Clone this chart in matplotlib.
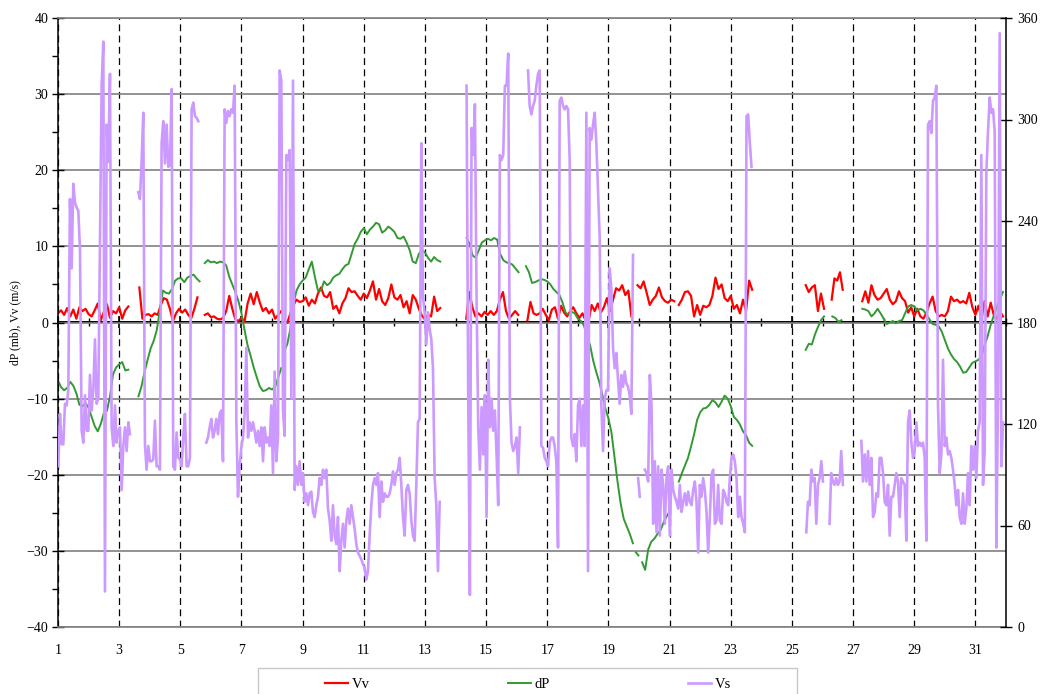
import numpy as np
import matplotlib
matplotlib.use("Agg")
import matplotlib.pyplot as plt
from matplotlib.patches import Rectangle
from matplotlib.lines import Line2D

plt.rcParams['font.family'] = ['Liberation Serif', 'DejaVu Serif']

# each segment: (first day, step in days, values); gaps between segments
vv_segments = [
    (1.0, 0.1, [1.2, 1.6, 1.0, 1.9, 0.8, 1.7, 0.5, 2.0, 1.5, 1.8, 1.1, 0.8, 1.6, 2.5, 0.3, 1.4,
                2.4, 0.6, 1.5, 1.2, 2.0, 0.5, 1.6, 2.1]),
    (3.66, 0.1, [4.6, 0.5, 1.0, 1.1, 0.8, 1.2, 1.0, 2.3, 3.2, 3.0, 1.8, 0.2, 1.2, 1.8, 1.3, 1.7,
                 1.0, 0.6, 1.8, 3.3]),
    (5.8, 0.1, [1.0, 1.2, 0.7, 0.8, 0.5, 0.4, 0.6, 1.5, 3.5, 1.8, 0.4, 0.2, 0.6, 0.1, 2.5, 3.8,
                2.4, 4.0, 2.6, 1.5, 1.9, 1.2, 1.7, 0.5, 1.0, 1.5]),
    (8.5, 0.1, [0.0, 1.2, 2.3, 3.0, 2.7, 2.8, 3.3, 2.2, 3.0, 2.5, 3.8, 4.6, 3.5, 3.3, 4.0, 1.8,
                2.2, 1.2, 2.5, 3.2, 4.5, 4.0, 4.1, 3.5, 3.0, 3.8, 3.2, 4.2, 5.4, 3.0, 4.4, 2.8,
                2.3, 3.2, 5.0, 3.3, 3.0, 3.6, 2.0, 2.8, 1.2, 3.6, 3.0, 1.8, 0.9, 0.4, 1.0, 0.8,
                3.4, 1.5, 1.9]),
    (14.35, 0.1, [0.5, 4.0, 2.0, 0.8, 1.2, 0.8, 1.4, 1.0, 1.5, 1.0, 1.5, 3.0, 4.0, 1.5, 0.5,
                  1.0, 1.5, 1.0]),
    (16.35, 0.1, [0.3, 2.7, 1.2, 1.0, 1.2, 1.8, 1.0, 0.3, 1.7, 2.0, 0.5, 2.2, 1.3, 0.8, 1.5,
                  2.0, 1.2, 0.6, 1.2, 0.3, 0.2, 2.3, 1.5, 2.5, 1.3, 2.0, 3.2, 1.5, 3.0, 4.5,
                  4.2, 4.9, 3.6, 4.2, 0.8]),
    (19.95, 0.1, [4.9, 4.5, 5.4, 3.9, 2.3, 3.0, 3.5, 4.6, 3.3, 2.8, 2.6, 3.0, 2.8]),
    (21.3, 0.1, [2.3, 3.0, 4.0, 4.1, 3.5, 0.8, 2.3, 1.0, 2.2, 2.0, 2.3, 3.5, 5.9, 4.4, 5.0,
                 3.2, 2.8, 3.5, 1.8, 2.3, 1.2, 3.0, 1.5, 5.5, 4.3]),
    (25.45, 0.1, [4.9, 4.0, 4.6, 4.9, 1.5, 3.8, 1.8]),
    (26.3, 0.09, [3.0, 5.8, 5.5, 6.6, 4.3]),
    (27.3, 0.1, [2.8, 4.1, 2.6, 4.9, 3.6, 3.0, 3.2, 3.8, 4.4, 3.0, 2.4, 2.8, 4.1, 3.2, 2.8, 1.3,
                 2.0, 0.8, 1.8, 0.8, 0.5, 1.3, 2.5, 3.4, 1.5, 0.8, 1.0, 0.8, 1.5, 3.4, 2.8, 3.0,
                 2.6, 2.8, 2.5, 3.9, 2.0, 1.0, 2.2, 0.5, 2.8, 0.8, 2.6, 1.0, 0.5, 1.5, 0.8]),
]

dp_segments = [
    (1.0, 0.1, [-7.6, -8.5, -8.9, -8.6, -7.8, -8.3, -9.3, -10.8, -11.0, -10.6, -11.2, -12.4,
                -13.6, -14.3, -13.3, -11.9, -11.6, -9.7, -6.8, -5.9, -5.5, -5.2, -6.3, -6.2]),
    (3.63, 0.1, [-9.7, -8.4, -6.5, -4.9, -3.4, -2.4, -1.0, 1.6, 4.2, 3.9, 3.8, 4.4, 5.5, 5.8,
                 5.8, 5.3, 5.9, 6.1, 6.3, 5.8, 5.4]),
    (5.8, 0.1, [7.8, 8.2, 7.9, 8.0, 7.8, 8.0, 7.9, 7.5, 6.0, 5.0, 4.0, 2.8, 1.2, -1.0, -3.0,
                -4.4, -5.9, -7.2, -8.4, -9.0, -8.9, -8.6, -8.8, -8.5, -7.2, -6.0]),
    (8.4, 0.1, [-3.8, -2.8, -0.8, 2.5, 4.2, 5.0, 5.5, 5.9, 7.0, 8.0, 6.0, 4.2, 4.2, 5.4, 4.9,
                5.2, 5.9, 6.2, 6.4, 7.0, 7.5, 7.7, 9.0, 10.3, 11.0, 11.9, 12.4, 11.6, 12.2,
                12.6, 13.1, 12.9, 11.8, 12.1, 12.6, 12.3, 11.9, 11.1, 11.0, 11.3, 10.5, 9.5,
                8.0, 7.8, 9.0, 9.5, 9.2, 8.5, 8.0, 8.6, 8.2, 8.0]),
    (14.36, 0.1, [11.1, 10.3, 8.8, 8.5, 9.5, 10.5, 10.8, 11.0, 10.8, 11.1, 10.9, 9.0, 8.2,
                  7.9, 7.8, 7.6, 7.1, 6.6]),
    (16.3, 0.1, [7.4, 6.6, 5.2, 5.3, 5.5, 5.7, 5.6, 5.4, 5.0, 4.4, 4.0, 3.6, 2.6, 1.3, 1.0,
                 1.4, 1.2, 0.5, 0.2, -0.4, -1.8, -3.0, -5.0, -6.5, -7.8, -9.5, -11.3, -12.6,
                 -14.5, -17.8, -21.0, -23.8, -25.8, -26.8, -27.8, -29.0]),
    (19.9, 0.08, [-30.2, -30.6]),
    (20.1, 0.1, [-31.5, -32.5, -29.8, -28.8, -28.4, -27.8, -27.3, -26.3, -25.5, -24.8]),
    (21.3, 0.1, [-20.9, -19.8, -18.8, -17.8, -16.3, -14.7, -12.8, -11.8, -11.3, -11.2, -10.8,
                 -10.2, -10.5, -11.1, -10.4, -9.6, -10.0, -11.0, -12.4, -12.8, -13.4, -14.3,
                 -14.8, -15.8, -16.2]),
    (25.45, 0.1, [-3.6, -2.8, -2.9, -1.6, -0.6, 0.3, 0.8]),
    (26.32, 0.1, [0.8, 0.6, 0.1, 0.3]),
    (27.3, 0.1, [1.8, 1.7, 1.5, 0.8, 1.2, 1.8, 1.2, 0.5, -0.2, 0.0, 0.2, -0.1, 0.2, 0.3, 1.2,
                 2.1, 2.3, 2.1, 1.6, 1.8, 1.6, 1.0, 0.4, -0.2, -0.3, -0.5, -1.2, -2.3, -3.4,
                 -4.2, -4.8, -5.2, -5.8, -6.6, -6.5, -5.9, -5.3, -5.1, -4.9, -4.4, -3.0, -1.8,
                 -0.3, 0.9, 2.0, 3.0, 4.0]),
]

vs_segments = [
    (1.01, 0.0545, [95, 126, 108, 108, 132, 131, 140, 253, 212, 262, 251, 248, 246, 223, 116,
                    109, 137, 116, 116, 149, 128, 140, 170, 132, 135, 225, 320, 346, 21, 297,
                    275, 327, 118, 107, 131, 109, 116, 118, 81, 107, 118, 104, 121, 114]),
    (3.625, 0.0545, [257, 253, 275, 304, 108, 93, 107, 98, 98, 99, 122, 95, 95, 93, 286, 299,
                     274, 297, 272, 273, 318, 95, 93, 115, 100, 99, 95, 112, 126, 95, 95, 100,
                     306, 310, 302, 301, 299]),
    (5.85, 0.0545, [109, 112, 118, 123, 112, 116,
                    123, 114, 126, 128, 98, 306, 298, 305, 302, 306, 304, 320, 122, 77, 95, 106,
                    112, 126, 165, 112, 121, 116, 121, 116, 109, 116, 107, 118, 98, 118, 109,
                    112, 107, 131, 91, 151, 98, 112, 329, 323, 128, 113, 279, 276, 282, 135,
                    323, 81, 95, 84, 98, 84, 91, 74, 79, 72, 79, 80, 68, 65, 72, 77, 88, 84, 93,
                    88, 93, 70, 63, 51, 72, 54, 49, 65, 33, 51, 61, 47, 63, 70, 61, 72, 65, 58,
                    49, 44, 42, 40, 37, 35, 28, 33, 54, 72, 84, 88, 84, 91,
                    65, 86, 74, 79, 77, 77, 79, 84, 92, 84, 91, 93, 100, 84, 65, 54, 81, 84, 79,
                    63, 54, 51, 84, 121, 123, 286, 195, 186, 167, 186, 176, 170, 153, 88, 72,
                    33, 74]),
    (14.36, 0.0545, [320, 135, 19, 295, 279, 309, 196, 118, 93, 130, 102, 137, 65, 158, 118,
                     135, 116, 128, 102, 72, 279, 276, 279, 320, 320, 339, 135, 109, 104, 107,
                     112, 91, 118]),
    (16.37, 0.0545, [329, 308, 303, 308,
                     311, 320, 327, 329, 107, 106, 100, 98, 95, 109, 112, 112, 107, 98, 47, 311,
                     313, 308, 306, 308, 306, 276, 112, 107, 114, 98, 131, 135, 107, 131, 107,
                     304, 33, 295, 288, 297, 304, 286, 258, 230, 131, 104, 135, 140, 140, 212,
                     200, 165, 153, 162, 146, 132, 149, 142, 151, 144, 142, 137, 126, 220]),
    (19.97, 0.0545, [88, 77]),
    (20.19, 0.0545, [93, 91, 86, 149, 131, 61, 98, 56, 95, 54, 93, 84, 61, 88, 95, 54, 93, 81,
                     77, 74, 70, 84, 68, 74, 79, 72, 80, 74, 72, 81, 86, 74, 44, 84,
                     77, 88, 81, 68, 44, 65, 90, 93, 61, 63, 84, 63, 61, 81, 79, 74, 72, 88,
                     100, 102, 98, 88, 65, 77, 65, 61, 56, 302, 303, 286, 272]),
    (25.47, 0.0545, [56, 74, 72, 93, 86, 88, 61, 84, 88, 98, 86]),
    (26.23, 0.0545, [61, 91, 86, 84, 88, 84, 86, 104, 84]),
    (27.27, 0.0545, [110, 86, 102, 86, 104, 84, 100, 65, 68, 79, 77, 100, 100, 91, 74, 72, 84,
                     54, 77, 77, 84, 91, 86, 65, 88, 86, 84, 51, 121, 128, 109, 100, 104, 121,
                     107, 109, 107, 109, 100, 51, 297, 299, 292, 311, 313, 320, 131, 91, 102,
                     158, 107, 112, 102, 104, 100, 93, 84, 72, 81, 65, 61, 79, 61, 70, 91, 72,
                     107, 93, 107, 88, 116, 121, 279, 84, 104, 269, 293, 313, 304, 306, 293, 47,
                     135, 351, 95, 121]),
]

x_ticks = list(range(1, 32, 2))
left_ticks = list(range(-40, 41, 10))
right_ticks = list(range(0, 361, 60))


def build(segments):
    xs, ys = [], []
    for start, step, vals in segments:
        xs.extend(start + step * np.arange(len(vals)))
        ys.extend(vals)
        xs.append(np.nan)
        ys.append(np.nan)
    return np.array(xs), np.array(ys)


vv_x, vv_y = build(vv_segments)
dp_x, dp_y = build(dp_segments)
vs_x, vs_y = build(vs_segments)

W, H = 1046, 694
fig = plt.figure(figsize=(W / 100, H / 100), dpi=100)
ax = fig.add_axes([58 / W, 1 - 627 / H, (1006 - 58) / W, (627 - 18) / H])

ax.set_xlim(1, 32)
ax.set_ylim(-40, 40)
ax.set_xticks(x_ticks)
ax.set_xticks(range(2, 33, 2), minor=True)
ax.set_yticks(left_ticks)
ax.set_yticks(range(-35, 40, 10), minor=True)

ax.grid(axis='y', color='#808080', lw=1.2)
ax.grid(axis='x', which='major', color='black', lw=0.9, ls=(0, (5.5, 3.5)))
ax.set_axisbelow(True)

ax.tick_params(axis='x', which='both', length=0, labelsize=10, pad=12)
ax.tick_params(axis='y', which='major', direction='inout', length=8, width=1,
               labelsize=10, pad=3)
ax.tick_params(axis='y', which='minor', direction='out', length=4, width=1)

for s in ['top', 'bottom']:
    ax.spines[s].set_color('#808080')
    ax.spines[s].set_linewidth(1.2)
ax.spines['right'].set_visible(False)
ax.spines['left'].set_linewidth(1.1)

# zero line with day ticks
sec = ax.secondary_xaxis(0.5)
sec.set_xticks(x_ticks)
sec.set_xticks(range(2, 33, 2), minor=True)
sec.tick_params(which='major', direction='inout', length=8, width=1.2,
                labeltop=False, labelbottom=False)
sec.tick_params(which='minor', direction='inout', length=6, width=1)
for s in sec.spines.values():
    s.set_linewidth(1.4)

ax.plot(vv_x, vv_y, color='#FF0000', lw=1.6)
ax.plot(dp_x, dp_y, color='#339933', lw=1.4)

ax.set_ylabel('dP (mb), Vv (m/s)', fontsize=8.5)
ax.yaxis.set_label_coords(-0.039, 0.5)

ax2 = ax.twinx()
ax2.set_ylim(0, 360)
ax2.set_yticks(right_ticks)
ax2.tick_params(axis='y', direction='inout', length=8, width=1, labelsize=10, pad=4)
for s in ['top', 'bottom', 'left']:
    ax2.spines[s].set_visible(False)
ax2.spines['right'].set_linewidth(1.1)
ax2.plot(vs_x, vs_y, color='#CC99FF', lw=1.9)

# legend
fig.patches.append(Rectangle((258 / W, 1 - 700 / H), (797 - 258) / W, 32 / H,
                             transform=fig.transFigure, fill=False,
                             edgecolor='#c8c8c8', lw=1))
handles = [Line2D([], [], color='#FF0000', lw=1.6),
           Line2D([], [], color='#339933', lw=1.4),
           Line2D([], [], color='#CC99FF', lw=1.9)]
fig.legend(handles, ['Vv', 'dP', 'Vs'], loc='center left',
           bbox_to_anchor=(325 / W, 1 - 684 / H), ncol=3, frameon=False,
           fontsize=10.5, handlelength=1.6, handletextpad=0.25, columnspacing=9.45,
           borderpad=0, borderaxespad=0)

fig.savefig('out.png', dpi=100)
